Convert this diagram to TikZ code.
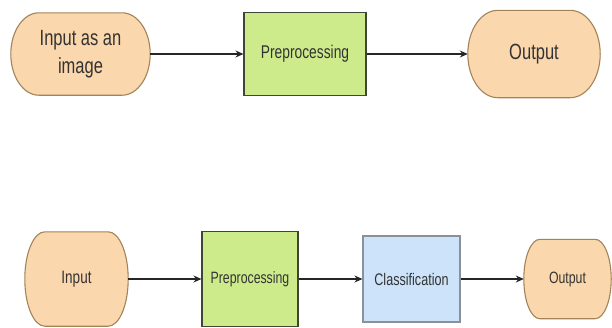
\documentclass[tikz,border=0pt]{standalone}
\usepackage{fontspec}
\setmainfont{Liberation Sans}[FakeStretch=0.75]
\usetikzlibrary{arrows.meta, backgrounds, calc}
\definecolor{myorange}{HTML}{FAD7AC}
\definecolor{myorangeline}{HTML}{A3845A}
\definecolor{mygreen}{HTML}{CDEB8B}
\definecolor{mygreenline}{HTML}{3E4636}
\definecolor{myblue}{HTML}{CCE3FA}
\definecolor{myblueline}{HTML}{8A9199}
\definecolor{mytext}{HTML}{333333}

\begin{document}
\begin{tikzpicture}[
    x=1pt, y=-1pt, % pixel grid, y going down
    every node/.style={text=mytext, align=center, inner sep=0pt},
    term/.style={draw=none},
    term line/.style={fill=myorange, draw=myorangeline, line width=1.1pt},
    green box/.style={fill=mygreen, draw=mygreenline, line width=1.1pt},
    blue box/.style={fill=myblue, draw=myblueline, line width=1.1pt},
    flow/.style={-{Stealth[length=8pt, width=7pt]}, line width=1.3pt, black!85}
]

    % --- 1. MACRO FOR THE ROUNDED TERMINAL SHAPE ---
    % #1 = node name, #2 = horizontal radius of the end arcs
    \def\drawTerm#1#2{
        \draw[term line] let \p1=(#1.north west), \p2=(#1.south east),
            \n1={(\y1-\y2)/2} in
            ({\x1+#2pt},\y1) -- ({\x2-#2pt},\y1)
            arc[start angle=90, end angle=-90, x radius=#2pt, y radius=\n1]
            -- ({\x1+#2pt},\y2)
            arc[start angle=270, end angle=90, x radius=#2pt, y radius=\n1]
            -- cycle;
    }

    \useasboundingbox (0,0) rectangle (612,327);

    % ==========================================
    % ROW 1: image -> preprocessing -> output
    % ==========================================
    \node[term, minimum width=139, minimum height=82,
          font=\fontsize{22}{28}\selectfont] (inImg) at (80.5,54) {Input as an\\image};
    \node[green box, minimum width=122, minimum height=83,
          font=\fontsize{18.4}{20}\selectfont] (preA) at (305,54) {Preprocessing};
    \node[term, minimum width=132, minimum height=87,
          font=\fontsize{22}{24}\selectfont] (outA) at (534,54) {Output};

    \draw[flow] (inImg) -- (preA);
    \draw[flow] (preA) -- (outA);

    % ==========================================
    % ROW 2: input -> preprocessing -> classification -> output
    % ==========================================
    \node[term, minimum width=103, minimum height=94,
          font=\fontsize{18}{20}\selectfont] (inB) at (76.5,279) {Input};
    \node[green box, minimum width=96, minimum height=95,
          font=\fontsize{16.4}{18}\selectfont] (preB) at (250,279) {Preprocessing};
    \node[blue box, minimum width=97, minimum height=86,
          font=\fontsize{16.8}{18}\selectfont] (clsB) at (411.5,279) {Classification};
    \node[term, minimum width=87, minimum height=79,
          font=\fontsize{16.4}{18}\selectfont] (outB) at (567.5,279) {Output};

    \draw[flow] (inB) -- (preB);
    \draw[flow] (preB) -- (clsB);
    \draw[flow] (clsB) -- (outB);

    % terminal shapes go behind the texts
    \begin{pgfonlayer}{background}
        \drawTerm{inImg}{28}
        \drawTerm{outA}{30}
        \drawTerm{inB}{20}
        \drawTerm{outB}{16}
    \end{pgfonlayer}

\end{tikzpicture}
\end{document}
